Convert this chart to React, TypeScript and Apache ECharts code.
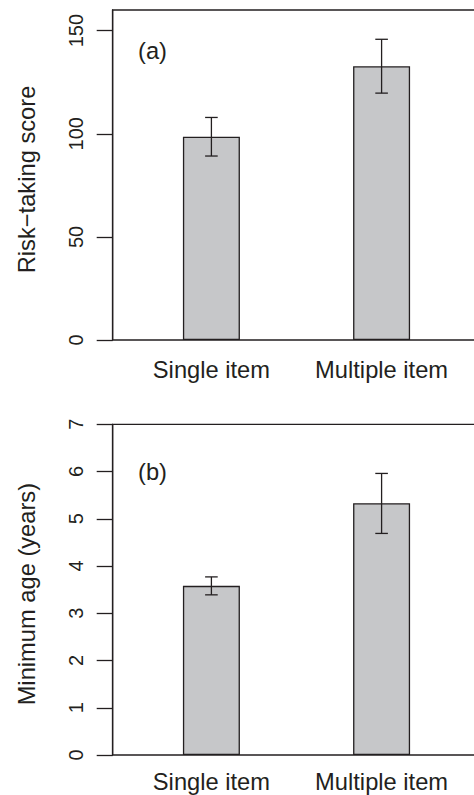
import React, { useEffect, useRef } from "react";
import * as echarts from "echarts";

// ---- data ----
const categories = ["Single item", "Multiple item"];

const riskMean = [98.6, 132.7];
const riskLow = [89.2, 119.7];
const riskHigh = [107.9, 145.8];
const riskTicks = [0, 50, 100, 150];

const ageMean = [3.58, 5.33];
const ageLow = [3.39, 4.69];
const ageHigh = [3.77, 5.96];
const ageTicks = [0, 1, 2, 3, 4, 5, 6, 7];

const panelTags = ["(a)", "(b)"];
const yTitles = ["Risk\u2212taking score", "Minimum age (years)"];

const INK = "#231f20";
const BAR = "#c6c7c9";
const FONT = "'Liberation Sans', Arial, Helvetica, sans-serif";

export default function App() {
  const ref = useRef<HTMLDivElement>(null);

  useEffect(() => {
    if (!ref.current) return;
    const chart = echarts.init(ref.current, null, { renderer: "svg" });

    const pos = categories.map((_, i) => i + 1);

    const makeX = (gridIndex: number, margin: number) => ({
      type: "value",
      gridIndex,
      min: 0.42,
      max: 2.58,
      axisLine: { show: false },
      axisTick: { show: false },
      splitLine: { show: false },
      axisLabel: {
        customValues: pos,
        formatter: (v: number) => categories[Math.round(v) - 1] ?? "",
        margin,
        fontSize: 23.7,
        fontFamily: FONT,
        color: INK,
      },
    });

    const makeY = (gridIndex: number, max: number, ticks: number[], title: string) => ({
      type: "value",
      gridIndex,
      min: 0,
      max,
      name: title,
      nameLocation: "middle",
      nameGap: 74,
      nameTextStyle: { fontSize: 23.7, fontFamily: FONT, color: INK, padding: [0, 9, 0, 0] },
      axisLine: { show: true, lineStyle: { color: INK, width: 1.3 } },
      axisTick: {
        show: true,
        length: 16,
        customValues: ticks,
        lineStyle: { color: INK, width: 1.3 },
      },
      splitLine: { show: false },
      axisLabel: {
        show: true,
        customValues: ticks,
        rotate: 90,
        margin: 27,
        fontSize: 20,
        fontFamily: FONT,
        color: INK,
      },
    });

    const barSeries = (idx: number, vals: number[]) => ({
      type: "bar",
      xAxisIndex: idx,
      yAxisIndex: idx,
      barWidth: 57,
      data: vals.map((v, i) => [pos[i], v]),
      itemStyle: { color: BAR, borderColor: INK, borderWidth: 1.3 },
      z: 2,
    });

    const errSeries = (idx: number, lo: number[], hi: number[]) => ({
      type: "custom",
      xAxisIndex: idx,
      yAxisIndex: idx,
      z: 5,
      clip: false,
      encode: { x: 0, y: [1, 2] },
      data: lo.map((l, i) => [pos[i], l, hi[i]]),
      renderItem: (_params: any, api: any) => {
        const x = api.value(0);
        const pLo = api.coord([x, api.value(1)]);
        const pHi = api.coord([x, api.value(2)]);
        const half = 6.3;
        const style = { stroke: INK, lineWidth: 1.3 };
        return {
          type: "group",
          children: [
            { type: "line", shape: { x1: pLo[0], y1: pLo[1], x2: pHi[0], y2: pHi[1] }, style },
            { type: "line", shape: { x1: pLo[0] - half, y1: pLo[1], x2: pLo[0] + half, y2: pLo[1] }, style },
            { type: "line", shape: { x1: pHi[0] - half, y1: pHi[1], x2: pHi[0] + half, y2: pHi[1] }, style },
          ],
        };
      },
    });

    const gridCommon = {
      left: 112.7,
      width: 367.6,
      show: true,
      borderColor: INK,
      borderWidth: 1.3,
      backgroundColor: "transparent",
      containLabel: false,
      outerBoundsMode: "none",
    };

    chart.setOption({
      animation: false,
      backgroundColor: "#ffffff",
      textStyle: { fontFamily: FONT },
      grid: [
        { ...gridCommon, top: 10, height: 330 },
        { ...gridCommon, top: 424.3, height: 330.7 },
      ],
      xAxis: [makeX(0, 18), makeX(1, 14.6)],
      yAxis: [makeY(0, 160, riskTicks, yTitles[0]), makeY(1, 7, ageTicks, yTitles[1])],
      series: [
        barSeries(0, riskMean),
        errSeries(0, riskLow, riskHigh),
        barSeries(1, ageMean),
        errSeries(1, ageLow, ageHigh),
      ],
      graphic: [
        {
          type: "text",
          x: 152.5,
          y: 51.3,
          style: { text: panelTags[0], fontSize: 23.7, fontFamily: FONT, fill: INK, align: "center", verticalAlign: "middle" },
        },
        {
          type: "text",
          x: 152.5,
          y: 472.2,
          style: { text: panelTags[1], fontSize: 23.7, fontFamily: FONT, fill: INK, align: "center", verticalAlign: "middle" },
        },
      ],
    });

    return () => chart.dispose();
  }, []);

  return (
    <div
      ref={ref}
      style={{ position: "absolute", left: 0, top: 0, width: 474, height: 795 }}
    />
  );
}
